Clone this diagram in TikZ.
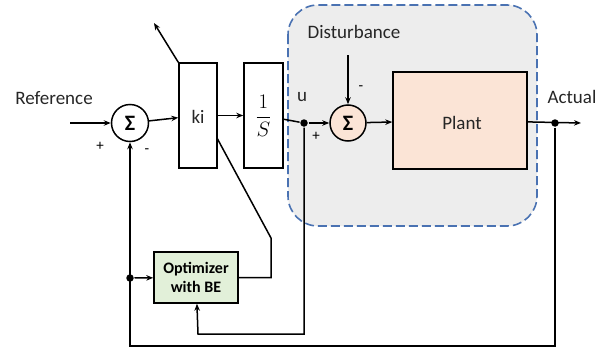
\documentclass[tikz,border=0pt]{standalone}
\usepackage{fontspec}
\setmainfont{Carlito}
\usetikzlibrary{arrows.meta,calc}
\definecolor{bggray}{HTML}{EDEDED}
\definecolor{dashblue}{HTML}{4A72B2}
\definecolor{peach}{HTML}{FBE4D6}
\definecolor{lgreen}{HTML}{E2F0D9}
\begin{document}
\begin{tikzpicture}[x=1pt,y=-1pt,line width=1.5pt,
  >={Stealth[length=7pt,width=5.5pt]},
  blk/.style={draw,line width=1.5pt,inner sep=0pt},
  sumc/.style={draw,circle,line width=1.5pt,minimum size=37pt,inner sep=0pt,font=\fontsize{22}{22}\selectfont\bfseries},
  lbl/.style={font=\fontsize{19}{21}\selectfont,text=black!85},
  sgn/.style={font=\fontsize{15}{16}\selectfont},
  dot/.style={circle,fill,inner sep=0pt,minimum size=7.5pt}]
\useasboundingbox (0,0) rectangle (608,351);
% plant region
\draw[dashblue,fill=bggray,dash pattern=on 9pt off 4pt,line width=1.6pt,rounded corners=30pt] (288,5) rectangle (537,226);
% nodes
\node[sumc] (s1) at (130,123) {Σ};
\node[blk,minimum width=38pt,minimum height=105pt] (ki) at (198,115.5) {};
\node[lbl] at (198,117) {ki};
\node[blk,minimum width=39pt,minimum height=105pt] (integ) at (263.5,115.5) {\fontsize{20}{20}\selectfont$\displaystyle\frac{1}{S}$};
\node[sumc,fill=peach,minimum size=36pt] (s2) at (348,123) {Σ};
\node[blk,fill=peach,minimum width=134pt,minimum height=97pt] (plant) at (460,120.5) {};
\node[lbl] at (462,123) {Plant};
\node[blk,fill=lgreen,minimum width=84pt,minimum height=51pt,align=center,font=\fontsize{16}{19}\selectfont\bfseries] (opt) at (196,277.5) {Optimizer\\with BE};
\node[dot] (u) at (304,123) {};
\node[dot] (act) at (555,123) {};
\node[dot] (od) at (130,278) {};
\coordinate (refin) at (70,123);
\coordinate (out) at (581,123);
\coordinate (dist) at (348,55);
\coordinate (fb) at (130,346);
\coordinate (uf) at (198,334);
\coordinate (kbend) at (271,238);
\coordinate (kd) at (217,138);
\coordinate (kiarrow) at (154,23);
% text
\node[lbl] at (54,98) {Reference};
\node[lbl] at (354,32) {Disturbance};
\node[lbl] at (572,97) {Actual};
\node[lbl] at (302,97) {u};
\node[sgn] at (100,146) {+};
\node[sgn] at (147,151) {-};
\node[sgn] at (316,136) {+};
\node[sgn] at (361,88) {-};
% connectors
\draw[->] (refin) -- (s1);
\draw[->] (s1) -- (ki);
\draw[->] (ki) -- (integ);
\draw (integ) -- (u);
\draw[->] (u) -- (s2);
\draw[->] (dist) -- (s2);
\draw[->] (s2) -- (plant);
\draw[->] (plant) -- (out);
\draw[->] (act) |- (fb) -- (s1);
\draw[->] (od) -- (opt);
\draw[->] (u) |- (uf) -- (opt);
\draw (opt) -| (kbend) -- (kd);
\draw[->] (ki.north west) -- (kiarrow);
\end{tikzpicture}
\end{document}
